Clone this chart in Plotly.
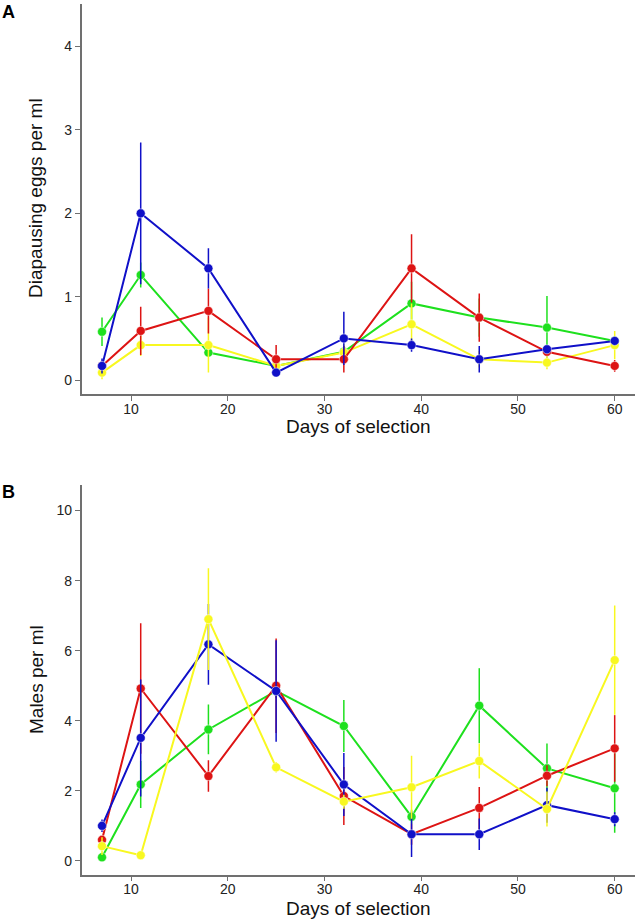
import plotly.graph_objects as go

days = [7, 11, 18, 25, 32, 39, 46, 53, 60]

# Panel A: diapausing eggs per ml (mean, standard error)
eggs_red = [0.17, 0.59, 0.83, 0.25, 0.25, 1.34, 0.75, 0.34, 0.17]
eggs_red_se = [0.06, 0.29, 0.27, 0.17, 0.16, 0.41, 0.29, 0.05, 0.07]
eggs_green = [0.58, 1.26, 0.33, 0.17, 0.34, 0.92, 0.75, 0.63, 0.47]
eggs_green_se = [0.17, 0.15, 0.05, 0.05, 0.05, 0.26, 0.23, 0.38, 0.05]
eggs_yellow = [0.09, 0.42, 0.42, 0.17, 0.33, 0.67, 0.25, 0.21, 0.42]
eggs_yellow_se = [0.08, 0.13, 0.33, 0.12, 0.10, 0.25, 0.10, 0.08, 0.17]
eggs_blue = [0.17, 2.0, 1.34, 0.09, 0.50, 0.42, 0.25, 0.37, 0.47]
eggs_blue_se = [0.09, 0.85, 0.24, 0.05, 0.32, 0.08, 0.16, 0.05, 0.05]

# Panel B: males per ml (mean, standard error)
males_red = [0.6, 4.92, 2.42, 5.0, 1.85, 0.76, 1.51, 2.43, 3.21]
males_red_se = [0.1, 1.86, 0.45, 1.35, 0.83, 0.3, 0.6, 0.3, 0.95]
males_green = [0.1, 2.18, 3.75, 4.85, 3.85, 1.26, 4.43, 2.64, 2.07]
males_green_se = [0.05, 0.67, 0.71, 0.2, 0.74, 0.2, 1.07, 0.71, 1.27]
males_yellow = [0.42, 0.16, 6.9, 2.67, 1.69, 2.1, 2.85, 1.48, 5.73]
males_yellow_se = [0.25, 0.08, 1.45, 0.15, 0.2, 0.9, 0.5, 0.5, 1.56]
males_blue = [1.0, 3.51, 6.18, 4.85, 2.18, 0.76, 0.76, 1.59, 1.19]
males_blue_se = [0.18, 1.67, 1.15, 1.45, 0.9, 0.65, 0.45, 0.5, 0.2]

colors = {
    'red': '#dd1414',
    'green': '#1ee01e',
    'yellow': '#f8f820',
    'blue': '#1010c8',
}

fig = go.Figure()

panels = [
    ('x', 'y', [
        ('green', eggs_green, eggs_green_se),
        ('yellow', eggs_yellow, eggs_yellow_se),
        ('red', eggs_red, eggs_red_se),
        ('blue', eggs_blue, eggs_blue_se),
    ]),
    ('x2', 'y2', [
        ('green', males_green, males_green_se),
        ('red', males_red, males_red_se),
        ('blue', males_blue, males_blue_se),
        ('yellow', males_yellow, males_yellow_se),
    ]),
]

for xa, ya, series in panels:
    for name, vals, se in series:
        c = colors[name]
        fig.add_trace(go.Scatter(
            x=days, y=vals, xaxis=xa, yaxis=ya,
            mode='lines+markers', name=name, showlegend=False,
            line=dict(color=c, width=2),
            marker=dict(color=c, size=9, line=dict(color='white', width=0.5)),
            error_y=dict(type='data', array=se, color=c, thickness=1.5, width=0),
        ))

axis_style = dict(
    showgrid=False, zeroline=False, showline=True,
    linecolor='#707070', linewidth=1.5,
    ticks='outside', ticklen=5, tickcolor='#707070', tickwidth=1.2,
    tickfont=dict(family='Liberation Sans, Arial', size=14, color='#222'),
)

x_dom = [81.7 / 641, 635 / 641]
fig.update_layout(
    width=641, height=920,
    margin=dict(l=0, r=0, t=0, b=0),
    paper_bgcolor='white', plot_bgcolor='white',
    xaxis=dict(domain=x_dom, range=[4.9, 62.1], tickvals=[10, 20, 30, 40, 50, 60],
               anchor='y', ticklabelstandoff=-4, **axis_style),
    yaxis=dict(domain=[1 - 394.3 / 920, 1 - 4 / 920], range=[-0.17, 4.51],
               tickvals=[0, 1, 2, 3, 4], anchor='x', **axis_style),
    xaxis2=dict(domain=x_dom, range=[4.9, 62.1], tickvals=[10, 20, 30, 40, 50, 60],
                anchor='y2', ticklabelstandoff=-4, **axis_style),
    yaxis2=dict(domain=[1 - 874.5 / 920, 1 - 485 / 920], range=[-0.39, 10.73],
                tickvals=[0, 2, 4, 6, 8, 10], anchor='x2', **axis_style),
)

title_font = dict(family='Liberation Sans, Arial', size=19, color='#111')
annotations = [
    dict(text='Days of selection', x=358 / 641, y=1 - 426.5 / 920),
    dict(text='Days of selection', x=358 / 641, y=1 - 908 / 920),
    dict(text='Diapausing eggs per ml', x=36 / 641, y=1 - 198 / 920, textangle=-90),
    dict(text='Males per ml', x=36 / 641, y=1 - 680 / 920, textangle=-90),
]
for a in annotations:
    fig.add_annotation(xref='paper', yref='paper', showarrow=False,
                       xanchor='center', yanchor='middle', font=title_font, **a)

panel_font = dict(family='Liberation Sans, Arial', size=18, color='black')
fig.add_annotation(text='<b>A</b>', xref='paper', yref='paper', x=8.5 / 641, y=1 - 12 / 920,
                   showarrow=False, xanchor='center', yanchor='middle', font=panel_font)
fig.add_annotation(text='<b>B</b>', xref='paper', yref='paper', x=8.5 / 641, y=1 - 492 / 920,
                   showarrow=False, xanchor='center', yanchor='middle', font=panel_font)

# the page body has a default 8px margin; remove it so the figure fills the window
fig.write_html('out.html', config={'displayModeBar': False},
               post_script="document.body.style.margin='0';")
